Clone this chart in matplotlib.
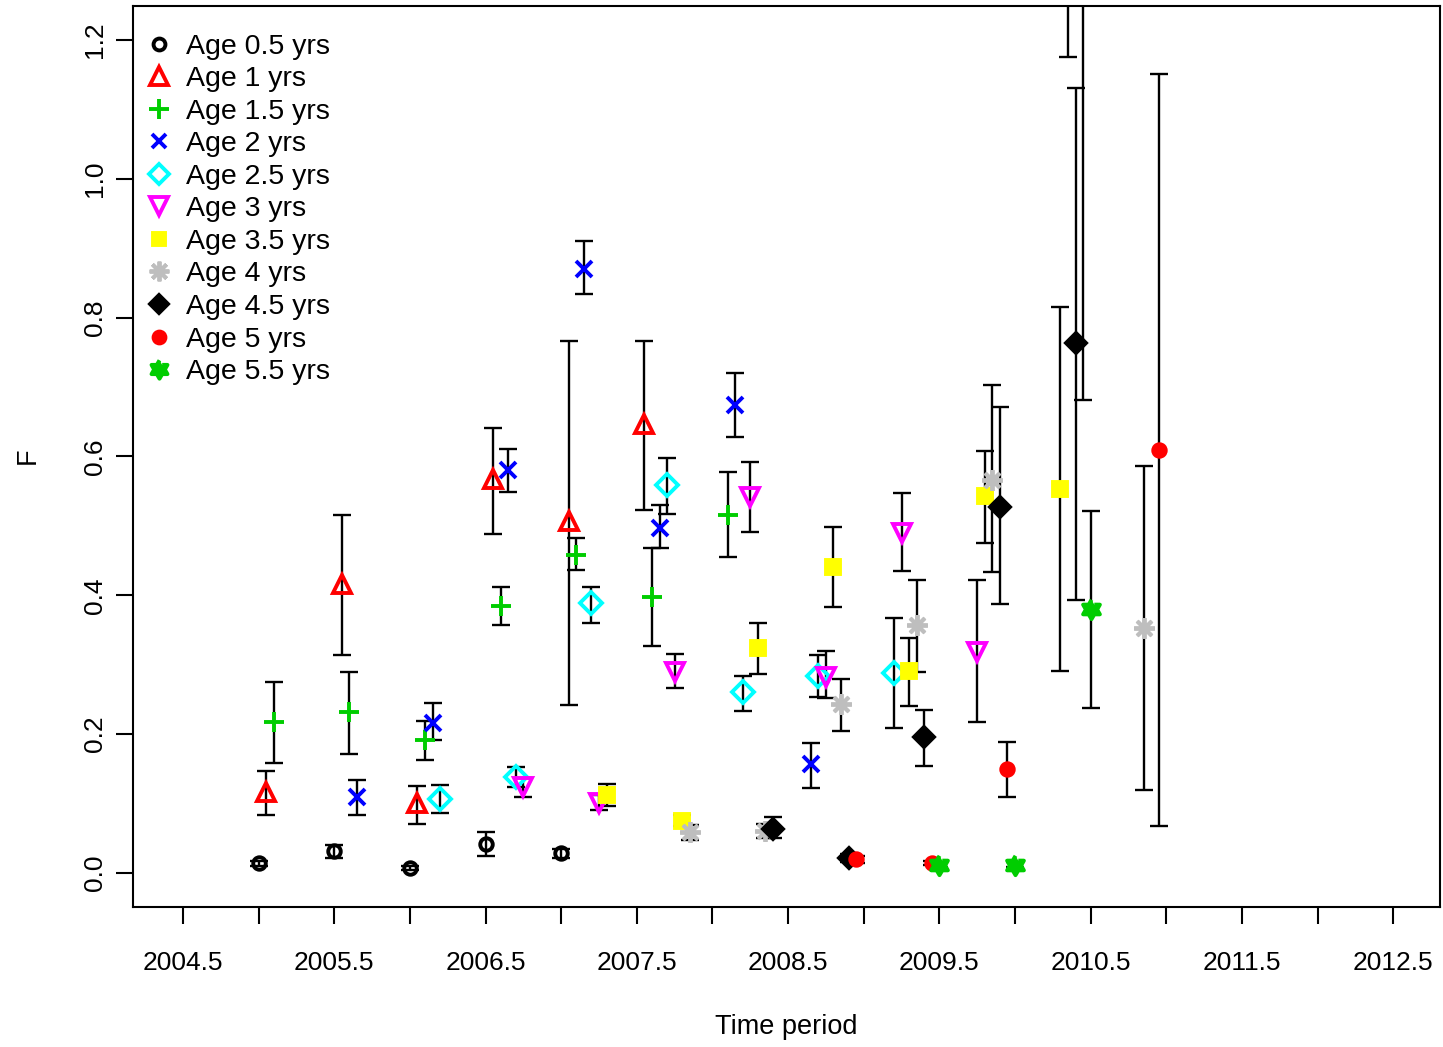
"""Estimated F by age class over time periods, with confidence bars."""
import matplotlib
matplotlib.use("Agg")
import matplotlib.pyplot as plt
import numpy as np
from matplotlib.lines import Line2D
from matplotlib.path import Path

plt.rcParams["font.family"] = ["Liberation Sans", "DejaVu Sans"]

AGES = [0.5, 1, 1.5, 2, 2.5, 3, 3.5, 4, 4.5, 5, 5.5]

# time periods (start) for each age class
periods_05 = [2005.0, 2005.5, 2006.0, 2006.5, 2007.0]
periods_10 = [2005.0, 2005.5, 2006.0, 2006.5, 2007.0, 2007.5]
periods_15 = [2005.0, 2005.5, 2006.0, 2006.5, 2007.0, 2007.5, 2008.0]
periods_20 = [2005.5, 2006.0, 2006.5, 2007.0, 2007.5, 2008.0, 2008.5]
periods_25 = [2006.0, 2006.5, 2007.0, 2007.5, 2008.0, 2008.5, 2009.0]
periods_30 = [2006.5, 2007.0, 2007.5, 2008.0, 2008.5, 2009.0, 2009.5]
periods_35 = [2007.0, 2007.5, 2008.0, 2008.5, 2009.0, 2009.5, 2010.0]
periods_40 = [2007.5, 2008.0, 2008.5, 2009.0, 2009.5, 2010.0, 2010.5]
periods_45 = [2008.0, 2008.5, 2009.0, 2009.5, 2010.0]
periods_50 = [2008.5, 2009.0, 2009.5, 2010.0, 2010.5]
periods_55 = [2009.0, 2009.5, 2010.0]

# F estimates
f_05 = [0.014, 0.032, 0.007, 0.042, 0.029]
f_10 = [0.117, 0.416, 0.101, 0.568, 0.507, 0.647]
f_15 = [0.218, 0.232, 0.192, 0.385, 0.458, 0.398, 0.516]
f_20 = [0.110, 0.216, 0.581, 0.870, 0.497, 0.674, 0.157]
f_25 = [0.107, 0.138, 0.389, 0.559, 0.261, 0.284, 0.288]
f_30 = [0.124, 0.101, 0.290, 0.542, 0.282, 0.490, 0.318]
f_35 = [0.112, 0.075, 0.324, 0.441, 0.291, 0.543, 0.553]
f_40 = [0.059, 0.061, 0.244, 0.357, 0.566, 1.450, 0.353]
f_45 = [0.063, 0.022, 0.196, 0.527, 0.764]
f_50 = [0.020, 0.014, 0.150, 1.400, 0.610]
f_55 = [0.012, 0.012, 0.380]

# lower bounds
lo_05 = [0.010, 0.022, 0.004, 0.024, 0.022]
lo_10 = [0.084, 0.314, 0.071, 0.488, 0.242, 0.523]
lo_15 = [0.159, 0.171, 0.163, 0.357, 0.437, 0.327, 0.455]
lo_20 = [0.084, 0.192, 0.549, 0.834, 0.468, 0.628, 0.122]
lo_25 = [0.086, 0.124, 0.360, 0.517, 0.233, 0.254, 0.209]
lo_30 = [0.110, 0.091, 0.267, 0.491, 0.252, 0.435, 0.218]
lo_35 = [0.097, 0.068, 0.287, 0.383, 0.241, 0.476, 0.291]
lo_40 = [0.048, 0.051, 0.205, 0.290, 0.434, 1.176, 0.120]
lo_45 = [0.050, 0.016, 0.154, 0.388, 0.393]
lo_50 = [0.015, 0.011, 0.110, 0.682, 0.068]
lo_55 = [0.008, 0.008, 0.238]

# upper bounds
hi_05 = [0.018, 0.041, 0.010, 0.059, 0.034]
hi_10 = [0.147, 0.516, 0.125, 0.641, 0.767, 0.767]
hi_15 = [0.275, 0.290, 0.219, 0.412, 0.483, 0.468, 0.578]
hi_20 = [0.134, 0.245, 0.611, 0.911, 0.530, 0.720, 0.187]
hi_25 = [0.127, 0.153, 0.412, 0.598, 0.284, 0.314, 0.367]
hi_30 = [0.137, 0.112, 0.316, 0.592, 0.320, 0.548, 0.422]
hi_35 = [0.128, 0.084, 0.360, 0.499, 0.339, 0.608, 0.816]
hi_40 = [0.069, 0.070, 0.280, 0.422, 0.703, 1.750, 0.586]
hi_45 = [0.080, 0.028, 0.235, 0.672, 1.131]
hi_50 = [0.025, 0.017, 0.189, 2.100, 1.151]
hi_55 = [0.016, 0.016, 0.522]

PERIODS = [periods_05, periods_10, periods_15, periods_20, periods_25, periods_30,
           periods_35, periods_40, periods_45, periods_50, periods_55]
FVALS = [f_05, f_10, f_15, f_20, f_25, f_30, f_35, f_40, f_45, f_50, f_55]
LOWER = [lo_05, lo_10, lo_15, lo_20, lo_25, lo_30, lo_35, lo_40, lo_45, lo_50, lo_55]
UPPER = [hi_05, hi_10, hi_15, hi_20, hi_25, hi_30, hi_35, hi_40, hi_45, hi_50, hi_55]

# star of david marker (two overlapping triangles)
ang = np.pi / 2 + np.arange(12) * np.pi / 6
rad = np.where(np.arange(12) % 2 == 0, 1.0, 0.58)
hexagram = Path(np.column_stack([rad * np.cos(ang), rad * np.sin(ang)]), closed=False)

COLORS = ["black", "#FF0000", "#00CD00", "#0000FF", "#00FFFF", "#FF00FF",
          "#FFFF00", "#BEBEBE", "black", "#FF0000", "#00CD00"]
# (marker, size, filled)
STYLES = [("o", 9, False), ("^", 13, False), ("+", 15, False), ("x", 11, False),
          ("D", 11, False), ("v", 13, False), ("s", 9.5, True), ((8, 2, 0), 15, False),
          ("D", 10, True), ("o", 9, True), (hexagram, 14, True)]

fig = plt.figure(figsize=(14.43, 10.47), dpi=100)
ax = fig.add_axes([0.0922, 0.1337, 0.9058, 0.8606])

for age, per, f, lo, hi, col, (mk, ms, filled) in zip(
        AGES, PERIODS, FVALS, LOWER, UPPER, COLORS, STYLES):
    x = np.array(per) + (age - 0.5) * 0.1
    f = np.array(f)
    ax.errorbar(x, f, yerr=[f - np.array(lo), np.array(hi) - f], fmt="none",
                ecolor="black", elinewidth=1.7, capsize=6.5, capthick=1.7, zorder=2)
    ax.plot(x, f, linestyle="none", marker=mk, markersize=ms,
            markerfacecolor=col if filled else "none", markeredgecolor=col,
            markeredgewidth=2.8, zorder=3)

ax.set_xlim(2004.17, 2012.81)
ax.set_ylim(-0.049, 1.249)

xt = np.arange(2004.5, 2012.51, 0.5)
ax.set_xticks(xt)
ax.set_xticklabels([f"{t:.1f}" if (t * 2) % 2 == 1 else "" for t in xt])
yt = np.arange(0, 1.21, 0.2)
ax.set_yticks(yt)
ax.set_yticklabels([f"{v:.1f}" for v in yt], rotation=90, va="center")
ax.tick_params(axis="x", length=12, width=1.5, pad=20, labelsize=19)
ax.tick_params(axis="y", length=12, width=1.5, pad=7, labelsize=19)
for sp in ax.spines.values():
    sp.set_linewidth(1.5)

fig.text(0.545, 0.019, "Time period", ha="center", va="center", fontsize=19.5)
fig.text(0.0194, 0.5645, "F", ha="center", va="center", rotation=90, fontsize=19.5)

handles = []
for age, col, (mk, ms, filled) in zip(AGES, COLORS, STYLES):
    handles.append(Line2D([], [], linestyle="none", marker=mk, markersize=ms * 0.95,
                          markerfacecolor=col if filled else "none",
                          markeredgecolor=col, markeredgewidth=2.8))
labels = [f"Age {a:g} yrs" for a in AGES]
ax.legend(handles, labels, loc="upper left", bbox_to_anchor=(0.0, 0.982),
          frameon=False, fontsize=20.5, handlelength=1.0, handletextpad=0.45,
          labelspacing=0.23, borderaxespad=0)

fig.savefig("out.png", dpi=100)
